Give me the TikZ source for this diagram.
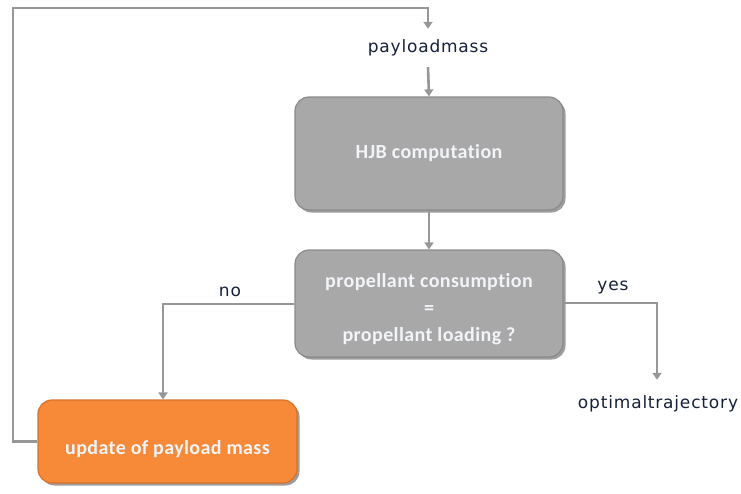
\documentclass[tikz,border=0pt]{standalone}
\usepackage{fontspec}
\newfontfamily\labelfont[LetterSpace=5]{DejaVu Sans}
\newfontfamily\boxfont[Ligatures=NoCommon, LetterSpace=2]{Carlito}
\usetikzlibrary{arrows.meta,shadows,positioning}
\definecolor{linegray}{HTML}{979797}
\definecolor{boxgray}{HTML}{A8A8A8}
\definecolor{boxedge}{HTML}{8A8A8A}
\definecolor{boxorange}{HTML}{F68A38}
\definecolor{orangeedge}{HTML}{D87228}
\definecolor{boxtext}{HTML}{F2F4F8}
\definecolor{labeltext}{HTML}{15203A}
\tikzset{
  procbox/.style={rounded corners=14pt, draw=boxedge, line width=1.2pt, fill=boxgray,
    text=boxtext, font=\boxfont\bfseries\fontsize{20}{27}\selectfont, align=center,
    drop shadow={shadow xshift=2.5pt, shadow yshift=-2.5pt, opacity=0.55, fill=black!70}},
  orangebox/.style={procbox, draw=orangeedge, fill=boxorange},
  lbl/.style={font=\labelfont\fontsize{17}{19}\selectfont, text=labeltext, inner sep=0pt},
  conn/.style={draw=linegray, line width=2.6pt},
  arr/.style={conn, -{Triangle[width=9pt,length=7pt]}, shorten >=0pt}
}
\begin{document}
\begin{tikzpicture}[x=1pt,y=-1pt]
\useasboundingbox (0,0) rectangle (741,493);
\node[procbox, minimum width=268pt, minimum height=113pt] (hjb) at (429,153.5) {HJB computation};
\node[procbox, minimum width=268pt, minimum height=107pt] (dec) at (429,303.5)
  {\rule{0pt}{25pt}propellant consumption\\=\\propellant loading ?};
\node[orangebox, minimum width=259pt, minimum height=83pt] (upd) at (167.5,441.5) {\rule{0pt}{29pt}update of payload mass};
\node[lbl, outer sep=11pt] (pm) at (428,48) {payload\hspace{0.5pt}mass};
\node[lbl, outer sep=16pt] (opt) at (658,404) {optimal\hspace{0.5pt}trajectory};
\node[lbl] (no) at (230,292) {no};
\node[lbl] (yes) at (613,288) {yes};
\coordinate (noc) at (163,304);
\coordinate (yesc) at (657,303);
\coordinate (la) at (13,441.5);
\coordinate (lb) at (13,8);
\coordinate (lc) at (428,8);
\draw[arr] (pm.south) -- (hjb.north);
\draw[arr] (hjb.south) -- (dec.north);
\draw[arr] (dec.west |- noc) -- (noc) -- (noc |- upd.north);
\draw[arr] (dec.east |- yesc) -- (yesc) -- (yesc |- opt.north);
\draw[arr] (upd.west) -- (la) -- (lb) -- (lc) -- (pm.north);
\end{tikzpicture}
\end{document}
